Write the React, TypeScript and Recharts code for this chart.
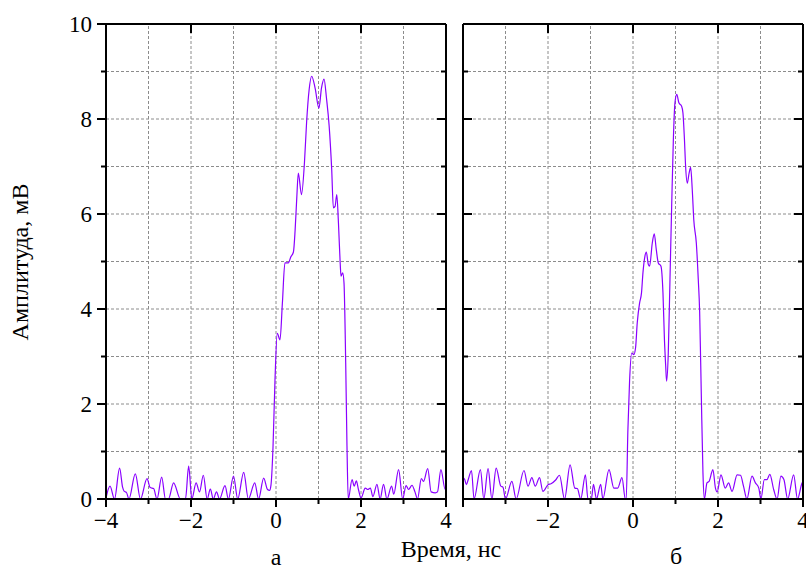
import React from "react";
import { LineChart, Line, XAxis, YAxis, ReferenceLine } from "recharts";

// panel "а"
const timeA = [
  -4.0, -3.906, -3.8, -3.68, -3.61, -3.57, -3.52, -3.46, -3.31, -3.19,
  -3.035, -2.96, -2.88, -2.8, -2.69, -2.6, -2.53, -2.41, -2.25, -2.13,
  -2.055, -1.98, -1.88, -1.8, -1.71, -1.62, -1.545, -1.475, -1.4, -1.33,
  -1.2, -1.12, -1.0, -0.9, -0.76, -0.65, -0.5, -0.41, -0.29, -0.2,
  -0.15, -0.12, -0.07, -0.024, 0.03, 0.094, 0.15, 0.21, 0.29, 0.35,
  0.41, 0.45, 0.49, 0.525, 0.6, 0.67, 0.72, 0.78, 0.84, 0.92,
  1.01, 1.07, 1.13, 1.19, 1.25, 1.31, 1.35, 1.39, 1.43, 1.47,
  1.51, 1.53, 1.57, 1.6, 1.64, 1.67, 1.7, 1.79, 1.84, 1.89,
  1.94, 2.0, 2.1, 2.16, 2.22, 2.28, 2.375, 2.45, 2.53, 2.61,
  2.72, 2.77, 2.885, 2.98, 3.06, 3.12, 3.2, 3.27, 3.33, 3.42,
  3.47, 3.57, 3.65, 3.75, 3.8, 3.88, 3.98, 4.0,
];
const ampA = [
  0.02, 0.27, 0, 0.65, 0.25, 0.16, 0.14, 0, 0.53, 0,
  0.43, 0.24, 0.22, 0, 0.46, 0, 0, 0.34, 0, 0,
  0.69, 0, 0.34, 0.15, 0.5, 0, 0.21, 0, 0.15, 0,
  0.28, 0, 0.48, 0, 0.56, 0, 0.34, 0, 0.44, 0.2,
  0.18, 0.28, 1.1, 2.5, 3.49, 3.35, 4.12, 4.97, 4.97, 5.1,
  5.2, 5.66, 6.36, 6.86, 6.41, 7.09, 7.93, 8.62, 8.9, 8.65,
  8.23, 8.65, 8.84, 8.42, 7.86, 6.95, 6.13, 6.16, 6.41, 5.8,
  4.97, 4.69, 4.76, 4.55, 2.87, 1.12, 0, 0.41, 0.27, 0.38,
  0.2, 0.02, 0.23, 0.2, 0.23, 0.05, 0.31, 0, 0.31, 0,
  0.27, 0.1, 0.62, 0, 0.28, 0.2, 0.29, 0.15, 0, 0.43,
  0.37, 0.64, 0.15, 0.13, 0.15, 0.62, 0.2, 0.25,
];

// panel "б"
const timeB = [
  -4.0, -3.96, -3.92, -3.88, -3.8, -3.74, -3.59, -3.51, -3.41, -3.32,
  -3.22, -3.11, -3.06, -3.0, -2.85, -2.75, -2.565, -2.47, -2.38, -2.3,
  -2.2, -2.12, -2.0, -1.93, -1.82, -1.73, -1.61, -1.48, -1.37, -1.31,
  -1.23, -1.12, -1.06, -0.98, -0.93, -0.86, -0.76, -0.71, -0.565, -0.45,
  -0.36, -0.26, -0.18, -0.16, -0.12, -0.08, -0.03, 0.02, 0.06, 0.1,
  0.156, 0.2, 0.234, 0.28, 0.313, 0.36, 0.39, 0.454, 0.5, 0.548,
  0.595, 0.658, 0.705, 0.74, 0.77, 0.79, 0.83, 0.87, 0.91, 0.95,
  0.987, 1.03, 1.08, 1.144, 1.175, 1.21, 1.238, 1.277, 1.32, 1.356,
  1.395, 1.43, 1.49, 1.536, 1.568, 1.607, 1.646, 1.68, 1.74, 1.79,
  1.88, 1.94, 1.98, 2.07, 2.17, 2.25, 2.33, 2.45, 2.53, 2.6,
  2.68, 2.8, 2.88, 2.96, 3.01, 3.09, 3.15, 3.22, 3.31, 3.39,
  3.48, 3.55, 3.64, 3.78, 3.87, 3.98, 4.0,
];
const ampB = [
  0.45, 0.41, 0.3, 0.4, 0.6, 0, 0.62, 0, 0.64, 0,
  0.65, 0.27, 0.25, 0, 0.37, 0, 0.6, 0.27, 0.45, 0.27,
  0.45, 0.16, 0.3, 0.32, 0.4, 0.5, 0, 0.72, 0.23, 0.22,
  0, 0.51, 0, 0, 0.31, 0, 0.31, 0, 0.62, 0.23,
  0.23, 0.45, 0, 0, 1.46, 2.5, 3.07, 3.04, 3.18, 3.71,
  4.13, 4.34, 4.76, 5.11, 5.2, 4.94, 4.9, 5.39, 5.58, 5.25,
  4.97, 4.9, 4.34, 3.35, 2.79, 2.48, 3.07, 4.62, 6.17, 7.58,
  8.34, 8.52, 8.34, 8.27, 8.13, 7.58, 7.0, 6.65, 6.86, 6.98,
  6.5, 5.88, 5.39, 4.62, 3.95, 2.2, 0.55, 0, 0.34, 0.37,
  0.62, 0.23, 0.15, 0.51, 0.23, 0.34, 0.16, 0.51, 0.5, 0.27,
  0, 0.48, 0.34, 0.23, 0, 0.41, 0.41, 0.52, 0.2, 0,
  0.48, 0.41, 0, 0.51, 0, 0.34, 0.36,
];

const xMajor = [-4, -2, 0, 2, 4];
const xAll = [-4, -3, -2, -1, 0, 1, 2, 3, 4];
const yAll = [0, 1, 2, 3, 4, 5, 6, 7, 8, 9, 10];

const dataA = timeA.map((t, i) => ({ t, v: ampA[i] }));
const dataB = timeB.map((t, i) => ({ t, v: ampB[i] }));

const FONT = "Liberation Serif";
const INK = "#000";
const PLOT_W = 340;
const PLOT_H = 475;
// pixel lengths of tick marks turned into axis units
const pxX = (px: number) => (px * 8) / PLOT_W;
const pxY = (px: number) => (px * 10) / PLOT_H;

const fmt = (v: number) => (v < 0 ? "\u2212" + Math.abs(v) : String(v));
const isMajor = (v: number) => v % 2 === 0;
const tickLen = (v: number) => (isMajor(v) ? 9 : 5);

const bottomLabel = (skipFirst: boolean) => (p: any) => {
  const v = p.payload.value;
  if (!isMajor(v) || (skipFirst && v === -4)) return <g />;
  return (
    <text x={p.x} y={p.y + 29} textAnchor="middle" fontFamily={FONT} fontSize={23} fill={INK}>{fmt(v)}</text>
  );
};

const leftLabel = (p: any) => {
  const v = p.payload.value;
  if (!isMajor(v)) return <g />;
  return (
    <text x={p.x - 14} y={p.y + 8} textAnchor="end" fontFamily={FONT} fontSize={23} fill={INK}>{fmt(v)}</text>
  );
};

function Panel({ data, first }: { data: { t: number; v: number }[]; first: boolean }) {
  const w = first ? 460 : 350;
  const margin = first
    ? { top: 24, right: 14, bottom: 41, left: 46 }
    : { top: 24, right: 3, bottom: 41, left: 7 };
  const ids = { xAxisId: "main", yAxisId: "main" };
  const tickStyle = { stroke: INK, strokeWidth: 2, ifOverflow: "visible" as const };
  return (
    <LineChart width={w} height={570} data={data} margin={margin}>
      <XAxis xAxisId="main" type="number" dataKey="t" domain={[-4, 4]} ticks={xAll} height={30}
        interval={0} tickSize={0} tickMargin={0} tickLine={false} axisLine={false} tick={bottomLabel(!first)} />
      <YAxis yAxisId="main" type="number" domain={[0, 10]} ticks={yAll} width={first ? 60 : 0}
        mirror={!first} interval={0} tickSize={0} tickMargin={0} tickLine={false} axisLine={false}
        tick={first ? leftLabel : false} />
      {/* dashed grid */}
      {xAll.slice(1, -1).map((x) => (
        <ReferenceLine key={"gx" + x} x={x} {...ids} stroke="#8c8c8c" strokeDasharray="3 2" />
      ))}
      {yAll.slice(1, -1).map((y) => (
        <ReferenceLine key={"gy" + y} y={y} {...ids} stroke="#8c8c8c" strokeDasharray="3 2" />
      ))}
      <Line {...ids} type="monotone" dataKey="v" stroke="#8a00ff" strokeWidth={1.2}
        dot={false} isAnimationActive={false} />
      {/* frame */}
      <ReferenceLine x={-4} {...ids} stroke={INK} strokeWidth={2} />
      <ReferenceLine x={4} {...ids} stroke={INK} strokeWidth={2} />
      <ReferenceLine y={0} {...ids} stroke={INK} strokeWidth={2} />
      <ReferenceLine y={10} {...ids} stroke={INK} strokeWidth={2} />
      {/* tick marks: bottom outward, top inward (major only), left / right */}
      {xAll.map((x) => (
        <ReferenceLine key={"tb" + x} {...ids} {...tickStyle}
          segment={[{ x, y: 0 }, { x, y: -pxY(isMajor(x) ? 8 : 5) }]} />
      ))}
      {xMajor.slice(1, -1).map((x) => (
        <ReferenceLine key={"tt" + x} {...ids} {...tickStyle}
          segment={[{ x, y: 10 }, { x, y: 10 - pxY(9) }]} />
      ))}
      {yAll.map((y) => (
        <ReferenceLine key={"tl" + y} {...ids} {...tickStyle}
          segment={[{ x: -4, y }, { x: first ? -4 - pxX(tickLen(y)) : -4 + pxX(tickLen(y)), y }]} />
      ))}
      {yAll.map((y) => (
        <ReferenceLine key={"tr" + y} {...ids} {...tickStyle}
          segment={[{ x: 4, y }, { x: 4 - pxX(tickLen(y)), y }]} />
      ))}
    </LineChart>
  );
}

export default function App() {
  return (
    <div style={{ position: "absolute", left: 0, top: 0, width: 806, height: 570, background: "#fff" }}>
      <div style={{ position: "absolute", left: 0, top: 0 }}>
        <Panel data={dataA} first={true} />
      </div>
      <div style={{ position: "absolute", left: 456, top: 0 }}>
        <Panel data={dataB} first={false} />
      </div>
      <svg width={806} height={570} style={{ position: "absolute", left: 0, top: 0, pointerEvents: "none" }}>
        <text x={20} y={262} transform="rotate(-90 20 262)" textAnchor="middle" dominantBaseline="central"
          fontFamily={FONT} fontSize={24} fill={INK}>Амплитуда, мВ</text>
        <text x={451} y={557} textAnchor="middle" fontFamily={FONT} fontSize={24} fill={INK}>Время, нс</text>
        <text x={276} y={565} textAnchor="middle" fontFamily={FONT} fontSize={24} fill={INK}>а</text>
        <text x={676} y={564} textAnchor="middle" fontFamily={FONT} fontSize={24} fill={INK}>б</text>
      </svg>
    </div>
  );
}
